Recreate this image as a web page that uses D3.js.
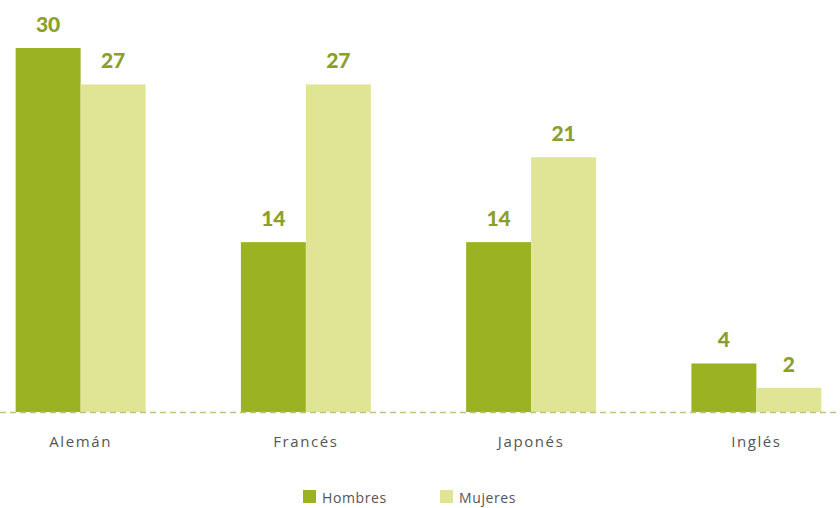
<!DOCTYPE html>
<html><head><meta charset="utf-8">
<script src="https://cdn.jsdelivr.net/npm/d3@7"></script>
<style>body{margin:0;background:#fff}</style>
</head><body>
<svg id="c" width="840" height="508"></svg>
<script>
const categories = ["Alemán", "Francés", "Japonés", "Inglés"];
const seriesNames = ["Hombres", "Mujeres"];
const hombres = [30, 14, 14, 4];
const mujeres = [27, 27, 21, 2];
const colors = ["#9BB322", "#E0E596"];

const svg = d3.select("#c");
const baseY = 412;
const x = d3.scaleBand().domain(categories).range([-32, 869]).paddingInner(0.423).paddingOuter(0.2115);
const xs = d3.scaleBand().domain(seriesNames).range([0, x.bandwidth()]);
const y = d3.scaleLinear().domain([0, 30]).range([baseY, 48]);

const data = categories.map((c, i) => ({c, vals: [hombres[i], mujeres[i]]}));

const g = svg.selectAll("g.grp").data(data).join("g").attr("transform", d => `translate(${x(d.c)},0)`);
g.selectAll("rect").data(d => d.vals.map((v, j) => ({v, s: seriesNames[j], j})))
  .join("rect")
  .attr("x", d => xs(d.s)).attr("width", xs.bandwidth())
  .attr("y", d => y(d.v)).attr("height", d => baseY - y(d.v))
  .attr("fill", d => colors[d.j]);
g.selectAll("text.v").data(d => d.vals.map((v, j) => ({v, s: seriesNames[j], j})))
  .join("text").attr("class", "v")
  .attr("x", d => xs(d.s) + xs.bandwidth() / 2)
  .attr("y", d => y(d.v) - 16)
  .attr("text-anchor", "middle")
  .attr("font-family", "Lato, 'DejaVu Sans', sans-serif")
  .attr("font-weight", "900").attr("font-size", 21)
  .attr("fill", "#8BA02A")
  .text(d => d.v);

svg.append("line").attr("x1", 0).attr("x2", 840).attr("y1", baseY + 0.5).attr("y2", baseY + 0.5)
  .attr("stroke", "#B8C77E").attr("stroke-width", 1.5).attr("stroke-dasharray", "6,4");

const xAxis = svg.append("g").attr("transform", `translate(0,${baseY})`)
  .call(d3.axisBottom(x).tickSize(0).tickPadding(24));
xAxis.select(".domain").remove();
xAxis.selectAll("text").attr("font-family", "'Open Sans', sans-serif").attr("font-size", 15)
  .attr("fill", "#555").attr("letter-spacing", "1.6px");

const leg = svg.append("g");
const legX = [303, 440];
seriesNames.forEach((s, j) => {
  leg.append("rect").attr("x", legX[j]).attr("y", 490).attr("width", 13).attr("height", 13).attr("fill", colors[j]);
  leg.append("text").attr("x", legX[j] + 19).attr("y", 502.5).text(s)
    .attr("font-family", "'Open Sans', sans-serif").attr("font-size", 14).attr("fill", "#555").attr("letter-spacing", "0.6px");
});
</script>
</body></html>
